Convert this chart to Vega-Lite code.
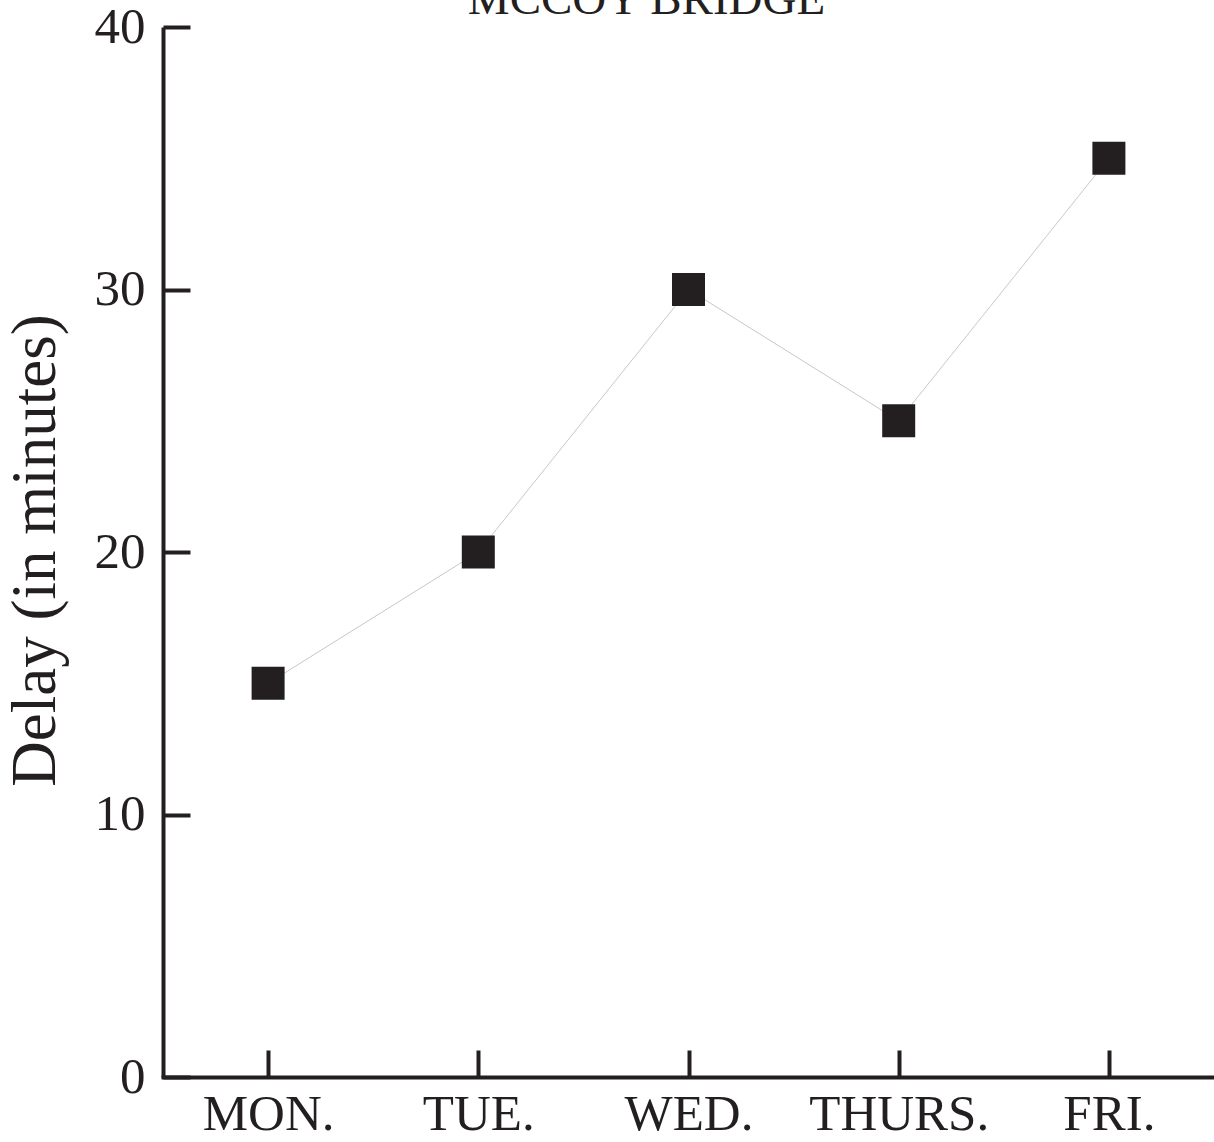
{
  "$schema": "https://vega.github.io/schema/vega-lite/v6.json",
  "autosize": {"type": "none"},
  "padding": {"left": 163, "top": 27, "right": 0, "bottom": 65},
  "width": 1051,
  "height": 1050,
  "background": "white",
  "title": {
    "text": "MCCOY BRIDGE",
    "font": "Liberation Serif",
    "fontSize": 47,
    "fontWeight": "normal",
    "color": "#231f20",
    "anchor": "middle",
    "frame": "group",
    "dx": -42,
    "dy": 60,
    "baseline": "alphabetic",
    "offset": 0
  },
  "data": {
    "values": [
      {"day": "MON.", "delay": 15},
      {"day": "TUE.", "delay": 20},
      {"day": "WED.", "delay": 30},
      {"day": "THURS.", "delay": 25},
      {"day": "FRI.", "delay": 35}
    ]
  },
  "config": {
    "view": {"stroke": null},
    "axis": {
      "labelFont": "Liberation Serif",
      "titleFont": "Liberation Serif",
      "labelColor": "#231f20",
      "titleColor": "#231f20",
      "domainColor": "#231f20",
      "tickColor": "#231f20",
      "domainWidth": 4,
      "tickWidth": 4,
      "grid": false,
      "labelFontSize": 51,
      "titleFontWeight": "normal"
    }
  },
  "encoding": {
    "x": {
      "field": "day",
      "type": "ordinal",
      "sort": null,
      "scale": {"type": "point", "padding": 0.5},
      "axis": {
        "title": null,
        "labelAngle": 0,
        "tickSize": -27,
        "labelPadding": 39,
        "domainCap": "square"
      }
    },
    "y": {
      "field": "delay",
      "type": "quantitative",
      "scale": {"domain": [0, 40], "nice": false},
      "axis": {
        "values": [0, 10, 20, 30, 40],
        "tickSize": -27,
        "labelPadding": 45,
        "title": "Delay (in minutes)",
        "titleFontSize": 63,
        "titleAngle": 270,
        "titleX": -128,
        "titleY": 523,
        "titleAlign": "center",
        "titleBaseline": "middle"
      }
    }
  },
  "layer": [
    {"mark": {"type": "line", "stroke": "#c8c8c8", "strokeWidth": 1}},
    {"mark": {"type": "point", "shape": "square", "size": 1089, "filled": true, "color": "#231f20", "opacity": 1}}
  ]
}
